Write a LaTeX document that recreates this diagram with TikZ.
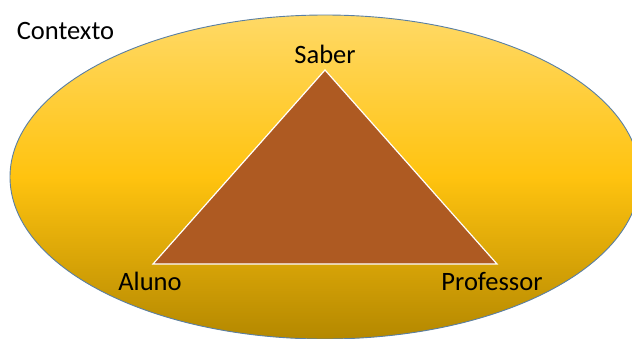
\documentclass[tikz,border=0pt]{standalone}
\usepackage{fontspec}
\setmainfont{Carlito}
\definecolor{ctxtop}{HTML}{FFD966}
\definecolor{ctxmid}{HTML}{FFC30F}
\definecolor{ctxbot}{HTML}{B48800}
\definecolor{ctxline}{HTML}{5A7FA3}
\definecolor{trifill}{HTML}{AE5A22}
\tikzset{
  context/.style={draw=ctxline, line width=0.9pt, top color=ctxtop, bottom color=ctxbot, middle color=ctxmid},
  triangle/.style={draw=white, line width=1.2pt, fill=trifill, line join=miter},
  label/.style={inner sep=0pt, anchor=base, font=\fontsize{26.5}{30}\selectfont, text=black}
}
\begin{document}
\begin{tikzpicture}[x=1pt, y=-1pt]
  \useasboundingbox (0,0) rectangle (632,338);
  \begin{scope}
    \clip (0,0) rectangle (632,338);
    % the context ellipse
    \path[context] (325,177) ellipse [x radius=315, y radius=162];
  \end{scope}
  % corners of the didactic triangle
  \coordinate (saber) at (325,70);
  \coordinate (aluno) at (153,264);
  \coordinate (professor) at (497,264);
  \draw[triangle] (saber) -- (professor) -- (aluno) -- cycle;
  % labels
  \node[label] (lctx) at (65.5,39) {Contexto};
  \node[label] (lsaber) at (325,63) {Saber};
  \node[label] (laluno) at (150,290) {Aluno};
  \node[label] (lprof) at (492,290) {Professor};
\end{tikzpicture}
\end{document}
